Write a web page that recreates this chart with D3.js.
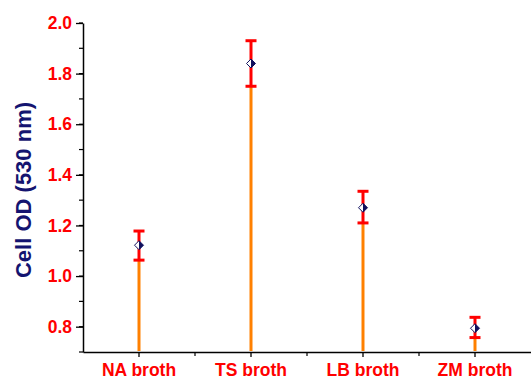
<!DOCTYPE html>
<html>
<head>
<meta charset="utf-8">
<script src="https://cdn.jsdelivr.net/npm/d3@7"></script>
<style>
  body { margin: 0; background: #fff; }
  text { font-family: "Liberation Sans", Arial, sans-serif; font-weight: bold; }
</style>
</head>
<body>
<div id="chart"></div>
<script>
const categories = ["NA broth", "TS broth", "LB broth", "ZM broth"];
const means = [1.122, 1.84, 1.27, 0.794];
const errLow = [1.063, 1.75, 1.21, 0.757];
const errHigh = [1.178, 1.93, 1.335, 0.837];
const yTicks = [0.8, 1.0, 1.2, 1.4, 1.6, 1.8, 2.0];

const W = 531, H = 379;
const margin = {top: 23, right: 0, bottom: 27, left: 83};
const width = W - margin.left - margin.right,
    height = 352 - margin.top;

const svg = d3.select("#chart").append("svg")
    .attr("width", W).attr("height", H);
const g = svg.append("g")
    .attr("transform", `translate(${margin.left}, ${margin.top})`);

const x = d3.scaleBand().domain(categories).range([0, width]);
const y = d3.scaleLinear().domain([0.7, 2.0]).range([height, 0]);

const data = categories.map((c, i) => ({cat: c, mean: means[i], lo: errLow[i], hi: errHigh[i]}));

// minor ticks y
const minorY = d3.range(0.7, 2.001, 0.1).map(v => +v.toFixed(2));
g.selectAll(".ymin").data(minorY).enter().append("line")
    .attr("x1", -4).attr("x2", 0)
    .attr("y1", d => y(d)).attr("y2", d => y(d))
    .attr("stroke", "#000").attr("stroke-width", 1.2);

const yAxis = g.append("g")
    .call(d3.axisLeft(y).tickValues(yTicks).tickFormat(d3.format(".1f")).tickSize(7).tickSizeOuter(0));
yAxis.select(".domain").attr("stroke-width", 1.5);
yAxis.selectAll(".tick line").attr("stroke-width", 1.3);
yAxis.selectAll("text").attr("fill", "#ff0000").attr("font-size", 17.5)
    .attr("font-family", "Liberation Sans, Arial, sans-serif").attr("font-weight", "bold")
    .attr("x", -11);

// minor x ticks at band boundaries
g.selectAll(".xmin").data(categories.slice(1)).enter().append("line")
    .attr("x1", d => x(d)).attr("x2", d => x(d))
    .attr("y1", height).attr("y2", height + 4)
    .attr("stroke", "#000").attr("stroke-width", 1.2);

const xAxis = g.append("g").attr("transform", `translate(0, ${height})`)
    .call(d3.axisBottom(x).tickSize(5).tickSizeOuter(0));
xAxis.select(".domain").attr("stroke-width", 1.5);
xAxis.selectAll(".tick line").attr("stroke-width", 1.3);
xAxis.selectAll("text").attr("fill", "#ff0000").attr("font-size", 17.5)
    .attr("font-family", "Liberation Sans, Arial, sans-serif").attr("font-weight", "bold")
    .attr("y", 12);

const cx = d => x(d.cat) + x.bandwidth() / 2;

// drop lines
g.selectAll(".drop").data(data).enter().append("line")
    .attr("x1", cx).attr("x2", cx)
    .attr("y1", height - 1).attr("y2", d => y(d.lo))
    .attr("stroke", "#ff8000").attr("stroke-width", 3);

// error bars
g.selectAll(".err").data(data).enter().append("line")
    .attr("x1", cx).attr("x2", cx)
    .attr("y1", d => y(d.lo)).attr("y2", d => y(d.hi))
    .attr("stroke", "#ff0000").attr("stroke-width", 3);
["lo", "hi"].forEach(k => {
    g.selectAll(".cap" + k).data(data).enter().append("line")
        .attr("x1", d => cx(d) - 5.5).attr("x2", d => cx(d) + 5.5)
        .attr("y1", d => y(d[k])).attr("y2", d => y(d[k]))
        .attr("stroke", "#ff0000").attr("stroke-width", 3);
});

// half-filled diamond markers
const s = 4.5;
const pt = g.selectAll(".pt").data(data).enter().append("g")
    .attr("transform", d => `translate(${cx(d)}, ${y(d.mean)})`);
pt.append("path").attr("d", `M0,${-s}L${s},0L0,${s}Z`).attr("fill", "#10105e");
pt.append("path").attr("d", `M0,${-s}L${-s},0L0,${s}Z`).attr("fill", "#fff");
pt.append("path").attr("d", `M0,${-s}L${s},0L0,${s}L${-s},0Z`)
    .attr("fill", "none").attr("stroke", "#10105e").attr("stroke-width", 1);

// y title
svg.append("text")
    .attr("transform", `translate(31, 190) rotate(-90)`)
    .attr("text-anchor", "middle")
    .attr("fill", "#141470").attr("font-size", 22)
    .text("Cell OD (530 nm)");
</script>
</body>
</html>
